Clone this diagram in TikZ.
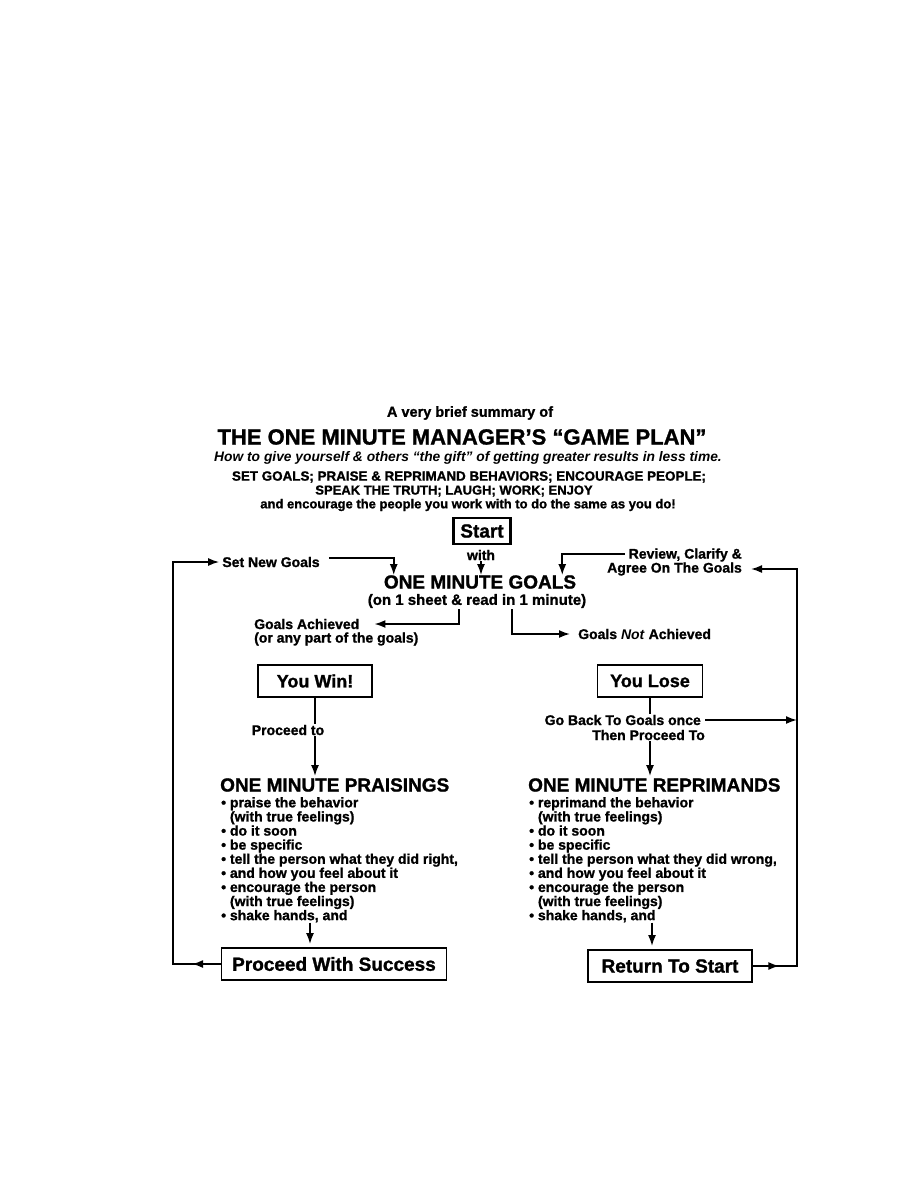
\documentclass[tikz,border=0pt]{standalone}
\usepackage{fontspec}
\setmainfont{Liberation Sans}[BoldFeatures={FakeBold=1.2}]
\usetikzlibrary{arrows.meta,calc,positioning}
\newcommand{\itm}{\textbullet\ }
\newcommand{\cnt}{\phantom{\textbullet\ }}

\begin{document}
\begin{tikzpicture}[x=1pt, y=-1pt,
    link/.style={line width=1.7pt},
    arr/.style={link, -{Latex[length=11pt,width=8pt]}},
    box/.style={draw, line width=1.9pt, inner sep=0pt, font=\fontsize{18}{20}\selectfont\bfseries},
    lbl/.style={font=\fontsize{14}{14.2}\selectfont\bfseries, inner sep=1pt},
    head/.style={font=\fontsize{19}{21}\selectfont\bfseries, inner sep=0pt},
    list/.style={font=\fontsize{14}{14.1}\selectfont\bfseries, align=left, inner sep=0pt, anchor=north west}]
    \fill[white] (0,0) rectangle (918,1188);
    \useasboundingbox (0,0) rectangle (918,1188);

    % Header
    \node[lbl, font=\fontsize{14.5}{16}\selectfont\bfseries] (summ) at (470,413) {A very brief summary of};
    \node[font=\fontsize{22}{24}\selectfont\bfseries, inner sep=0pt] (title) at (462,437) {THE ONE MINUTE MANAGER'S “GAME PLAN”};
    \node[lbl, font=\fontsize{13.8}{14}\selectfont\bfseries\itshape] (sub) at (468,458) {How to give yourself \& others “the gift” of getting greater results in less time.};
    \node[lbl, font=\fontsize{13.4}{14}\selectfont\bfseries] (setline) at (469,477) {SET GOALS; PRAISE \& REPRIMAND BEHAVIORS; ENCOURAGE PEOPLE;};
    \node[lbl, font=\fontsize{13}{14}\selectfont\bfseries] (speak) at (454,491) {SPEAK THE TRUTH; LAUGH; WORK; ENJOY};
    \node[lbl, font=\fontsize{13}{14}\selectfont\bfseries] (enc) at (468,505) {and encourage the people you work with to do the same as you do!};

    % Goals
    \node[box, line width=2.6pt, minimum width=57pt, minimum height=26pt, font=\fontsize{19}{20}\selectfont\bfseries] (start) at (482,531) {Start};
    \node[lbl] (with) at (481,555) {with};
    \node[head] (goals) at (480,582) {ONE MINUTE GOALS};
    \node[lbl, font=\fontsize{15}{16}\selectfont\bfseries] (goalsub) at (477,601) {(on 1 sheet \& read in 1 minute)};
    \node[lbl] (setnew) at (271,562) {Set New Goals};
    \node[lbl, anchor=east] (review1) at (743,555) {Review, Clarify \&};
    \node[lbl, anchor=east] (review2) at (743,569) {Agree On The Goals};
    \node[lbl, anchor=west] (achieved1) at (253,624) {Goals Achieved};
    \node[lbl, anchor=west] (achieved2) at (253,639) {(or any part of the goals)};
    \node[lbl, anchor=west] (notach) at (577,634) {Goals \textit{Not} Achieved};

    \draw[arr] (with.south) -- (with.south |- goals.north);
    \draw[arr] ([xshift=8pt,yshift=4pt]setnew.east) -| ([xshift=10pt]goals.north west);
    \draw[arr] ([xshift=-3pt,yshift=1pt]review1.west) -| ([xshift=-14pt]goals.north east);
    \draw[arr] ([xshift=-18pt]goalsub.south) |- ([xshift=14pt]achieved1.east);
    \draw[arr] ([xshift=35pt]goalsub.south) |- ([xshift=-7pt]notach.west);

    % Win / lose
    \node[box, minimum width=114pt, minimum height=32pt] (win) at (315,681) {You Win!};
    \node[box, minimum width=105pt, minimum height=32pt] (lose) at (650,681) {You Lose};
    \node[lbl] (proc) at (288,730) {Proceed to};
    \node[lbl, anchor=east] (goback1) at (702,720) {Go Back To Goals once};
    \node[lbl, anchor=east] (goback2) at (706,735) {Then Proceed To};

    \draw[link] (win.south) -- (win.south |- proc.north);
    \draw[link] (lose.south) -- (lose.south |- goback1.north);

    % Praisings and reprimands
    \node[head, anchor=west] (praise) at (220,785) {ONE MINUTE PRAISINGS};
    \node[head, anchor=west] (rep) at (528,785) {ONE MINUTE REPRIMANDS};
    \node[list] (plist) at (221,797) {\itm praise the behavior\\ \cnt(with true feelings)\\ \itm do it soon\\ \itm be specific\\
        \itm tell the person what they did right,\\ \itm and how you feel about it\\ \itm encourage the person\\ \cnt(with true feelings)\\ \itm shake hands, and};
    \node[list] (rlist) at (529,797) {\itm reprimand the behavior\\ \cnt(with true feelings)\\ \itm do it soon\\ \itm be specific\\
        \itm tell the person what they did wrong,\\ \itm and how you feel about it\\ \itm encourage the person\\ \cnt(with true feelings)\\ \itm shake hands, and};

    \draw[arr] (win.south |- proc.south) -- ([yshift=2pt]win.south |- praise.north);
    \draw[arr] (lose.south |- goback2.south) -- ([yshift=2pt]lose.south |- rep.north);

    % End boxes
    \node[box, minimum width=225pt, minimum height=32pt, font=\fontsize{19}{20}\selectfont\bfseries] (success) at (334,964) {Proceed With Success};
    \node[box, minimum width=164pt, minimum height=32pt, font=\fontsize{19}{20}\selectfont\bfseries] (ret) at (670,966) {Return To Start};

    \draw[arr] ([xshift=-24pt]success.north |- plist.south) -- ([xshift=-24pt,yshift=3pt]success.north);
    \draw[arr] ([xshift=-18pt]ret.north |- rlist.south) -- ([xshift=-18pt,yshift=3pt]ret.north);

    % Loops back
    \coordinate (lx) at (173,0);
    \coordinate (rx) at (797,0);
    \draw[arr] (success.west) -- (success.west -| lx) |- ([xshift=-2pt]setnew.west);
    \draw[arr] (success.west) -- ($(success.west)!0.6!(success.west -| lx)$);
    \draw[arr] (ret.east) -- (ret.east -| rx) |- ([xshift=8pt]review2.east);
    \draw[arr] (ret.east) -- ($(ret.east)!0.6!(ret.east -| rx)$);
    \draw[arr] ([xshift=3pt]goback1.east) -- (goback1.east -| rx);
\end{tikzpicture}
\end{document}
